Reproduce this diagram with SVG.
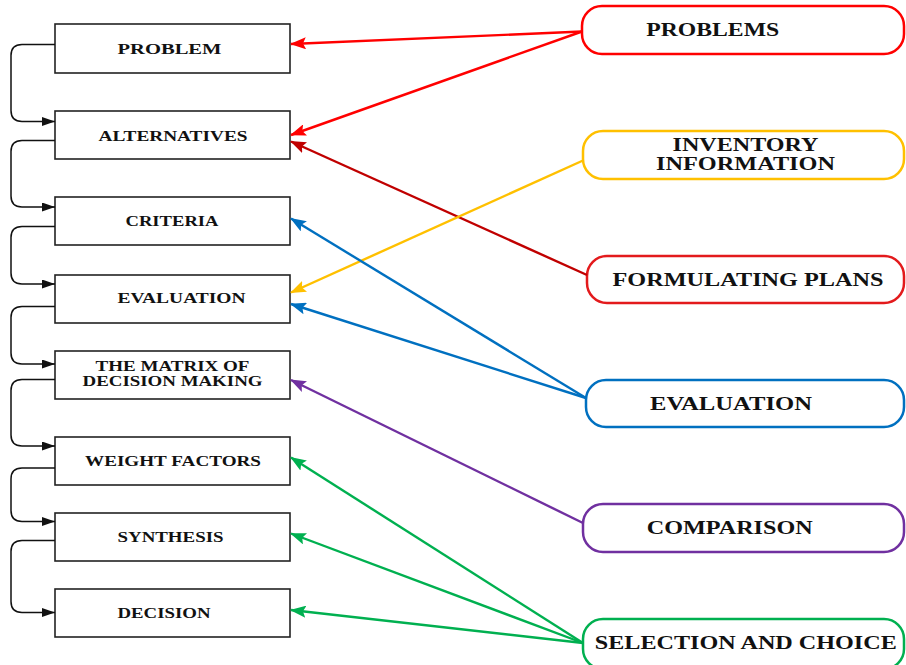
<svg xmlns="http://www.w3.org/2000/svg" width="906" height="665" viewBox="0 0 906 665">
<style>
.box{fill:#fff;stroke:#222;stroke-width:1.6}
.lt{font-family:"Liberation Serif","Times New Roman",serif;font-weight:bold;font-size:15px;fill:#111;text-anchor:middle}
.rt{font-family:"Liberation Serif","Times New Roman",serif;font-weight:bold;font-size:18px;fill:#111;text-anchor:middle}
.rb{fill:#fff;stroke-width:2.5}
.flow{fill:none;stroke:#111;stroke-width:1.5}
.c{fill:none;stroke-width:2.4}
</style>
<defs>
<marker id="mk" markerUnits="userSpaceOnUse" markerWidth="14" markerHeight="10" refX="13" refY="4.5" orient="auto"><path d="M0,0 L13,4.5 L0,9 z" fill="#111"/></marker>
<marker id="mr" markerUnits="userSpaceOnUse" markerWidth="16" markerHeight="12" refX="15" refY="6" orient="auto"><path d="M0,0 L16,6 L0,12 L3,6 z" fill="#ff0000"/></marker>
<marker id="mdr" markerUnits="userSpaceOnUse" markerWidth="16" markerHeight="12" refX="15" refY="6" orient="auto"><path d="M0,0 L16,6 L0,12 L3,6 z" fill="#c00000"/></marker>
<marker id="my" markerUnits="userSpaceOnUse" markerWidth="16" markerHeight="12" refX="15" refY="6" orient="auto"><path d="M0,0 L16,6 L0,12 L3,6 z" fill="#ffc000"/></marker>
<marker id="mb" markerUnits="userSpaceOnUse" markerWidth="16" markerHeight="12" refX="15" refY="6" orient="auto"><path d="M0,0 L16,6 L0,12 L3,6 z" fill="#0070c0"/></marker>
<marker id="mp" markerUnits="userSpaceOnUse" markerWidth="16" markerHeight="12" refX="15" refY="6" orient="auto"><path d="M0,0 L16,6 L0,12 L3,6 z" fill="#7030a0"/></marker>
<marker id="mg" markerUnits="userSpaceOnUse" markerWidth="16" markerHeight="12" refX="15" refY="6" orient="auto"><path d="M0,0 L16,6 L0,12 L3,6 z" fill="#00b050"/></marker>
</defs>

<g id="n-problem"><rect class="box" x="55" y="24" width="235" height="49"/><text class="lt" x="169.5" y="53.5" textLength="104" lengthAdjust="spacingAndGlyphs">PROBLEM</text></g>
<g id="n-alternatives"><rect class="box" x="55" y="111" width="235" height="48"/><text class="lt" x="173" y="140.5" textLength="149" lengthAdjust="spacingAndGlyphs">ALTERNATIVES</text></g>
<g id="n-criteria"><rect class="box" x="55" y="197" width="235" height="48"/><text class="lt" x="172" y="225.5" textLength="93" lengthAdjust="spacingAndGlyphs">CRITERIA</text></g>
<g id="n-evaluation"><rect class="box" x="55" y="275" width="235" height="48"/><text class="lt" x="181.5" y="303" textLength="128" lengthAdjust="spacingAndGlyphs">EVALUATION</text></g>
<g id="n-matrix"><rect class="box" x="55" y="351" width="235" height="48"/><text class="lt" x="172.5" y="371" textLength="154" lengthAdjust="spacingAndGlyphs">THE MATRIX OF</text><text class="lt" x="172.5" y="386" textLength="180" lengthAdjust="spacingAndGlyphs">DECISION MAKING</text></g>
<g id="n-weight"><rect class="box" x="55" y="437" width="235" height="48"/><text class="lt" x="173" y="465.5" textLength="176" lengthAdjust="spacingAndGlyphs">WEIGHT FACTORS</text></g>
<g id="n-synthesis"><rect class="box" x="55" y="513" width="235" height="48"/><text class="lt" x="170.5" y="541.5" textLength="106" lengthAdjust="spacingAndGlyphs">SYNTHESIS</text></g>
<g id="n-decision"><rect class="box" x="55" y="589" width="235" height="48"/><text class="lt" x="164" y="617.5" textLength="93" lengthAdjust="spacingAndGlyphs">DECISION</text></g>

<g id="r-problems"><rect class="rb" stroke="#ff0000" x="582" y="6" width="322" height="48" rx="20"/><text class="rt" x="712.7" y="36" textLength="133" lengthAdjust="spacingAndGlyphs">PROBLEMS</text></g>
<g id="r-inventory"><rect class="rb" stroke="#ffc000" x="583" y="131" width="321" height="48" rx="20"/><text class="rt" x="745.5" y="150.5" textLength="146" lengthAdjust="spacingAndGlyphs">INVENTORY</text><text class="rt" x="745.5" y="169.5" textLength="179" lengthAdjust="spacingAndGlyphs">INFORMATION</text></g>
<g id="r-formulating"><rect class="rb" stroke="#e31a1c" x="587" y="256" width="317" height="47" rx="20"/><text class="rt" x="748" y="285.5" textLength="271" lengthAdjust="spacingAndGlyphs">FORMULATING PLANS</text></g>
<g id="r-evaluation"><rect class="rb" stroke="#0070c0" x="586" y="380" width="318" height="47" rx="20"/><text class="rt" x="731" y="409.5" textLength="162" lengthAdjust="spacingAndGlyphs">EVALUATION</text></g>
<g id="r-comparison"><rect class="rb" stroke="#7030a0" x="583" y="504" width="321" height="48" rx="20"/><text class="rt" x="729.7" y="533.5" textLength="166" lengthAdjust="spacingAndGlyphs">COMPARISON</text></g>
<g id="r-selection"><rect class="rb" stroke="#00b050" x="583" y="619" width="321" height="50" rx="20"/><text class="rt" x="745.8" y="648.5" textLength="302" lengthAdjust="spacingAndGlyphs">SELECTION AND CHOICE</text></g>

<g id="connectors">
<path class="flow" marker-end="url(#mk)" d="M55,44.5 H22 Q11,44.5 11,55.5 V110.5 Q11,121.5 22,121.5 H55"/>
<path class="flow" marker-end="url(#mk)" d="M55,140.5 H22 Q11,140.5 11,151.5 V196 Q11,207 22,207 H55"/>
<path class="flow" marker-end="url(#mk)" d="M55,226.5 H22 Q11,226.5 11,237.5 V273 Q11,284 22,284 H55"/>
<path class="flow" marker-end="url(#mk)" d="M55,306.5 H22 Q11,306.5 11,317.5 V353 Q11,364 22,364 H55"/>
<path class="flow" marker-end="url(#mk)" d="M55,379.5 H22 Q11,379.5 11,390.5 V435 Q11,446 22,446 H55"/>
<path class="flow" marker-end="url(#mk)" d="M55,468 H22 Q11,468 11,479 V510.5 Q11,521.5 22,521.5 H55"/>
<path class="flow" marker-end="url(#mk)" d="M55,540.5 H22 Q11,540.5 11,551.5 V601.5 Q11,612.5 22,612.5 H55"/>

<line class="c" stroke="#ff0000" marker-end="url(#mr)" x1="582" y1="31.5" x2="291" y2="44"/>
<line class="c" stroke="#ff0000" marker-end="url(#mr)" x1="582" y1="31.5" x2="291" y2="135"/>
<line class="c" stroke="#c00000" marker-end="url(#mdr)" x1="587" y1="275" x2="291" y2="141.5"/>
<line class="c" stroke="#ffc000" marker-end="url(#my)" x1="583" y1="160.5" x2="291" y2="292.5"/>
<line class="c" stroke="#0070c0" marker-end="url(#mb)" x1="586" y1="398" x2="291" y2="218.5"/>
<line class="c" stroke="#0070c0" marker-end="url(#mb)" x1="586" y1="398" x2="291" y2="304"/>
<line class="c" stroke="#7030a0" marker-end="url(#mp)" x1="583" y1="523" x2="291" y2="380"/>
<line class="c" stroke="#00b050" marker-end="url(#mg)" x1="583" y1="643" x2="291" y2="457.5"/>
<line class="c" stroke="#00b050" marker-end="url(#mg)" x1="583" y1="643" x2="291" y2="533.5"/>
<line class="c" stroke="#00b050" marker-end="url(#mg)" x1="583" y1="643" x2="291" y2="610"/>
</g>
</svg>
